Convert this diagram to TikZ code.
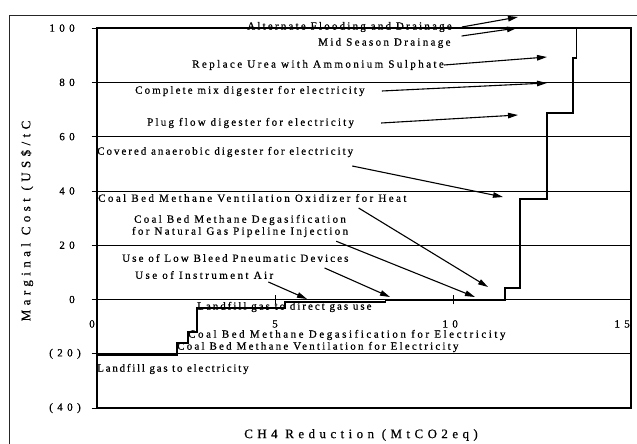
\documentclass[tikz,border=0pt]{standalone}
\usepackage{fontspec}
\setmainfont{Liberation Serif}
\newfontfamily\lblfont[FakeBold=0.6]{Liberation Serif}
\newfontfamily\tickfont[LetterSpace=40,FakeBold=0.6]{Liberation Serif}
\newfontfamily\titlefont[LetterSpace=34,FakeBold=0.6]{Liberation Serif}
\usetikzlibrary{arrows.meta}
\tikzset{
  lbl/.style      ={anchor=west,inner sep=0pt,
                    font=\fontsize{11}{12}\lblfont\addfontfeatures{LetterSpace=#1}},
  lbl/.default    =18,
  ticklbl/.style  ={inner sep=0pt,font=\tickfont\fontsize{11}{12}\selectfont},
  axtitle/.style  ={inner sep=0pt,font=\titlefont\fontsize{13}{14}\selectfont},
  pointer/.style  ={-{Triangle[length=10pt,width=5.5pt]},line width=1.1pt},
  grid line/.style={line width=0.7pt},
  frame line/.style={line width=1.3pt},
  cost curve/.style={line width=1.7pt,line join=miter},
}
\begin{document}
\begin{tikzpicture}[x=1pt,y=-1pt]
  \useasboundingbox (0,0) rectangle (637,444);
  % outer frame
  \draw[line width=0.8pt,black!85] (637,15) -- (9,15) -- (9,444);
  % plot area in data units
  \begin{scope}[shift={(97,299.5)},x=35.6pt,y=2.714pt]
    \foreach \v in {-20,0,...,80}
      \draw[grid line] (0,\v) -- (15,\v);
    \foreach \v in {-40,-20,...,100}
      \draw[grid line] (-0.15,\v) -- (0,\v);
    \foreach \v in {5,10}
      \draw[grid line] (\v,-1.8) -- (\v,1.6);
    \draw[frame line] (0,-40) rectangle (15,100);
    \foreach \v in {100,80,60,40,20,0}
      \node[ticklbl,anchor=east] at (-0.62,\v) {\v};
    \node[ticklbl,anchor=east] at (-0.45,-20) {(20)};
    \node[ticklbl,anchor=east] at (-0.45,-40) {(40)};
    \foreach \v/\p in {0/-0.14,5/5.0,10/9.92,15/14.75}
      \node[ticklbl] at (\p,-9) {\v};
    % cost curve
    \draw[cost curve] (0,-20.4) -- (2.25,-20.4) -- (2.25,-16) -- (2.56,-16)
      -- (2.56,-12) -- (2.81,-12) -- (2.81,-3.1) -- (5.28,-3.1) -- (5.28,-1.0)
      -- (8.1,-1.0) -- (8.1,-0.3) -- (11.46,-0.3) -- (11.46,4.2) -- (11.88,4.2)
      -- (11.88,37) -- (12.64,37) -- (12.64,68.7) -- (13.37,68.7) -- (13.37,89)
      -- (13.47,89) -- (13.47,100);
  \end{scope}
  % axis titles
  \node[axtitle] (xtitle) at (361,435) {CH4 Reduction (MtCO2eq)};
  \node[axtitle,rotate=90] (ytitle) at (27,221) {Marginal Cost (US\$/tC};
  % measure labels
  \node[lbl=20] (alt)   at (247,27)  {Alternate Flooding and Drainage};
  \node[lbl=21] (mid)   at (318,43)  {Mid Season Drainage};
  \node[lbl=22] (urea)  at (192,65)  {Replace Urea with Ammonium Sulphate};
  \node[lbl=19] (cmix)  at (135,91)  {Complete mix digester for electricity};
  \node[lbl=20] (plug)  at (147,123) {Plug flow digester for electricity};
  \node[lbl=18] (cov)   at (97,152)  {Covered anaerobic digester for electricity};
  \node[lbl=22] (cbmox) at (98,198)  {Coal Bed Methane Ventilation Oxidizer for Heat};
  \node[lbl=21,anchor=center,align=center] (cbmng) at (240,226)
    {Coal Bed Methane Degasification\\for Natural Gas Pipeline Injection};
  \node[lbl=19] (bleed) at (122,258) {Use of Low Bleed Pneumatic Devices};
  \node[lbl=22] (air)   at (135,275) {Use of Instrument Air};
  \node[lbl=18] (lfdir) at (197,307) {Landfill gas to direct gas use};
  \node[lbl=23] (cbmde) at (188,335) {Coal Bed Methane Degasification for Electricity};
  \node[lbl=20] (cbmve) at (177,347) {Coal Bed Methane Ventilation for Electricity};
  \node[lbl=16] (lfel)  at (97,369)  {Landfill gas to electricity};
  % arrow targets on the curve
  \coordinate (t-alt)   at (518,17);
  \coordinate (t-mid)   at (517,28);
  \coordinate (t-urea)  at (547,57);
  \coordinate (t-cmix)  at (547,83);
  \coordinate (t-plug)  at (518,115);
  \coordinate (t-cov)   at (503,197);
  \coordinate (t-cbmox) at (488,287);
  \coordinate (t-cbmng) at (475,297);
  \coordinate (t-bleed) at (390,297);
  \coordinate (t-air)   at (307,299);
  % pointers
  \draw[pointer] ([xshift=10pt]alt.east) -- (t-alt);
  \draw[pointer] ([shift={(11pt,7pt)}]mid.east) -- (t-mid);
  \draw[pointer] (urea.east) -- (t-urea);
  \draw[pointer] ([xshift=17pt]cmix.east) -- (t-cmix);
  \draw[pointer] ([xshift=27pt]plug.east) -- (t-plug);
  \draw[pointer] ([shift={(-1pt,-14pt)}]cov.east) -- (t-cov);
  \draw[pointer] ([shift={(-48pt,-10pt)}]cbmox.east) -- (t-cbmox);
  \draw[pointer] ([shift={(-12pt,-4pt)}]cbmng.south east) -- (t-cbmng);
  \draw[pointer] ([shift={(-24pt,-10pt)}]bleed.east) -- (t-bleed);
  \draw[pointer] ([shift={(-5pt,-7pt)}]air.east) -- (t-air);
\end{tikzpicture}
\end{document}
